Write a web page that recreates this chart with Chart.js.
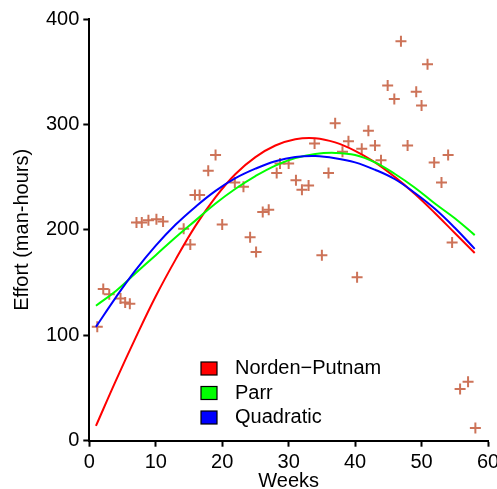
<!DOCTYPE html>
<html>
<head>
<meta charset="utf-8">
<script src="https://cdn.jsdelivr.net/npm/chart.js@4.4.1/dist/chart.umd.min.js"></script>
<style>
html, body { margin: 0; padding: 0; background: #fff; overflow: hidden; }
#wrap { width: 497px; height: 489px; overflow: hidden; position: relative; }
</style>
</head>
<body>
<div id="wrap"><canvas id="chart" width="510" height="489"></canvas></div>
<script>
// observed effort per week
const weeks = [1.2, 2.1, 3.0, 4.7, 5.4, 6.1, 7.1, 7.9, 8.9, 10.1, 11.1, 14.2, 15.2, 15.9, 16.6,
    17.9, 19.0, 20.0, 21.9, 23.2, 24.2, 25.1, 26.1, 27.0, 28.2, 28.7, 30.0, 31.1, 32.0, 33.0,
    33.9, 35.0, 36.0, 37.0, 38.1, 39.0, 40.3, 41.0, 42.0, 43.0, 43.9, 44.9, 45.9, 46.9, 47.9,
    49.2, 50.0, 50.9, 51.9, 53.0, 54.0, 54.6, 55.8, 57.0, 58.1];
const effort = [108, 144, 139, 135, 131, 130, 207, 207, 209, 210, 208, 201, 186, 233, 233,
    256, 271, 205, 245, 241, 193, 179, 217, 219, 254, 263, 263, 247, 238, 242,
    282, 176, 254, 301, 274, 284, 155, 277, 294, 280, 266, 337, 324, 379, 280,
    331, 318, 357, 264, 245, 271, 188, 49, 56, 12];

// fitted curves, read at every third week
const fitWeeks = [1, 4, 7, 10, 13, 16, 19, 22, 25, 28, 31, 34, 37, 40, 43, 46, 49, 52, 55, 58];
const nordenPutnam = [14, 57, 98, 137, 172, 204, 231, 253, 269, 280, 286, 287, 283, 275, 264, 250, 234, 216, 197, 178];
const parr = [128, 142, 159, 176, 193, 209, 225, 239, 251, 261, 268, 272, 273, 271, 264, 253, 240, 225, 211, 195];
const quadratic = [108, 136, 162, 185, 205, 222, 237, 249, 258, 265, 269, 270, 268, 264, 257, 248, 235, 220, 202, 182];

const xTicks = [0, 10, 20, 30, 40, 50, 60];
const yTicks = [0, 100, 200, 300, 400];

const FONT = { family: '"Liberation Sans", Arial, Helvetica, sans-serif', size: 20 };

const pairs = (xs, ys) => xs.map((x, i) => ({ x: x, y: ys[i] }));

const curve = (label, values, color, order) => ({
    label: label,
    data: pairs(fitWeeks, values),
    showLine: true,
    borderColor: color,
    backgroundColor: color,
    borderWidth: 2,
    pointRadius: 0,
    tension: 0.4,
    order: order
});

// legend drawn inside the plot, bottom middle
const insideLegend = {
    id: 'insideLegend',
    afterDatasetsDraw(chart) {
        const ctx = chart.ctx;
        const items = chart.data.datasets.filter(d => d.showLine);
        ctx.save();
        ctx.font = FONT.size + 'px ' + FONT.family;
        ctx.textBaseline = 'middle';
        ctx.textAlign = 'left';
        items.forEach((d, i) => {
            const y = 368.5 + i * 24.5;
            ctx.fillStyle = d.borderColor;
            ctx.fillRect(201, y - 6.5, 16, 13);
            ctx.strokeStyle = '#000';
            ctx.lineWidth = 1.2;
            ctx.strokeRect(201, y - 6.5, 16, 13);
            ctx.fillStyle = '#000';
            ctx.fillText(d.label, 235, y);
        });
        ctx.restore();
    }
};

const axisGrid = { drawOnChartArea: false, tickLength: 6, tickWidth: 2, tickColor: '#000' };
const axisBorder = { display: true, color: '#000', width: 2 };

new Chart(document.getElementById('chart'), {
    type: 'scatter',
    data: {
        datasets: [
            {
                label: 'data',
                data: pairs(weeks, effort),
                pointStyle: 'cross',
                pointRadius: 5.5,
                pointHoverRadius: 5.5,
                borderWidth: 2,
                borderColor: 'rgb(205,115,88)',
                order: 4
            },
            curve('Norden\u2212Putnam', nordenPutnam, '#ff0000', 3),
            curve('Parr', parr, '#00ff00', 2),
            curve('Quadratic', quadratic, '#0000ff', 1)
        ]
    },
    options: {
        responsive: false,
        animation: false,
        layout: { padding: { top: 19, right: 22, bottom: 0, left: 0 } },
        plugins: { legend: { display: false }, tooltip: { enabled: false } },
        scales: {
            x: {
                type: 'linear', min: 0, max: 60,
                afterBuildTicks: s => { s.ticks = xTicks.map(v => ({ value: v })); },
                afterFit: s => { s.height = 48.3; },
                grid: axisGrid,
                border: axisBorder,
                ticks: { font: FONT, color: '#000', padding: 4 },
                title: { display: true, text: 'Weeks', font: FONT, color: '#000', padding: { top: 0, bottom: -4 } }
            },
            y: {
                type: 'linear', min: 0, max: 400,
                afterBuildTicks: s => { s.ticks = yTicks.map(v => ({ value: v })); },
                afterFit: s => { s.width = 89.3; },
                grid: axisGrid,
                border: axisBorder,
                ticks: { font: FONT, color: '#000', padding: 4 },
                title: { display: true, text: 'Effort (man-hours)', font: FONT, color: '#000', padding: { top: 10, bottom: 0 } }
            }
        }
    },
    plugins: [insideLegend]
});
</script>
</body>
</html>
